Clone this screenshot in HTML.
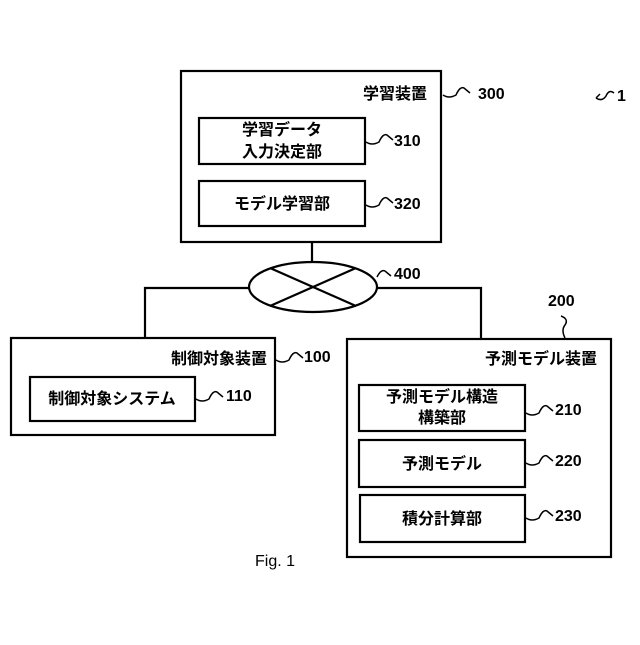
<!DOCTYPE html>
<html><head><meta charset="utf-8"><style>
html,body{margin:0;padding:0;background:#fff;}
svg text{font-family:"Liberation Sans","Noto Sans CJK JP",sans-serif;font-size:16px;fill:#000;font-weight:bold;}
</style></head><body>
<svg width="640" height="640" viewBox="0 0 640 640" xmlns="http://www.w3.org/2000/svg">
<g fill="none" stroke="#000" stroke-width="2.2">
<rect x="181" y="71" width="260" height="171"/>
<rect x="199" y="118" width="166" height="46"/>
<rect x="199" y="181" width="166" height="45"/>
<line x1="312" y1="242" x2="312" y2="262"/>
<ellipse cx="313" cy="287" rx="64" ry="25"/>
<line x1="270" y1="268" x2="356" y2="306"/>
<line x1="356" y1="268" x2="270" y2="306"/>
<polyline points="249,288 145,288 145,338"/>
<polyline points="377,288 481,288 481,339"/>
<rect x="11" y="338" width="264" height="97"/>
<rect x="30" y="377" width="165" height="44"/>
<rect x="347" y="339" width="264" height="218"/>
<rect x="359" y="385" width="166" height="46"/>
<rect x="359" y="440" width="166" height="47"/>
<rect x="360" y="495" width="165" height="47"/>
</g>
<g fill="none" stroke="#000" stroke-width="1.5">
<path d="M443,95 q6,4 13,0 q4,-9 8,-7 l6,5"/>
<path d="M366,142 q6,4 13,0 q4,-9 8,-7 l6,5"/>
<path d="M366,205 q6,4 13,0 q4,-9 8,-7 l6,5"/>
<path d="M377,277 q4,-8 8,-6 l6,5"/>
<path d="M276,360 q6,4 13,0 q4,-9 8,-7 l6,5"/>
<path d="M196,399 q6,4 13,0 q4,-9 8,-7 l6,5"/>
<path d="M526,413 q6,4 13,0 q4,-9 8,-7 l6,5"/>
<path d="M526,463 q6,4 13,0 q4,-9 8,-7 l6,5"/>
<path d="M526,518 q6,4 13,0 q4,-9 8,-7 l6,5"/>
<path d="M565,338 q-4,-8 0,-13 q4,-6 -4,-9"/>
<path d="M596,98 q6,4 10,-2 q3,-7 8,-3 M596,98 l4,-4"/>
</g>
<g text-anchor="end">
<text x="427" y="99">学習装置</text>
<text x="267" y="364">制御対象装置</text>
<text x="597" y="364">予測モデル装置</text>
</g>
<g text-anchor="middle">
<text x="282" y="135">学習データ</text>
<text x="282" y="157">入力決定部</text>
<text x="282" y="209">モデル学習部</text>
<text x="112" y="404">制御対象システム</text>
<text x="442" y="402">予測モデル構造</text>
<text x="442" y="423">構築部</text>
<text x="442" y="469">予測モデル</text>
<text x="442" y="524">積分計算部</text>
<text x="275" y="566" style="font-weight:normal">Fig. 1</text>
</g>
<g>
<text x="478" y="99">300</text>
<text x="394" y="146">310</text>
<text x="394" y="209">320</text>
<text x="394" y="279">400</text>
<text x="304" y="362">100</text>
<text x="226" y="401">110</text>
<text x="555" y="415">210</text>
<text x="555" y="466">220</text>
<text x="555" y="521">230</text>
<text x="548" y="306">200</text>
<text x="617" y="101">1</text>
</g>
</svg>
</body></html>
